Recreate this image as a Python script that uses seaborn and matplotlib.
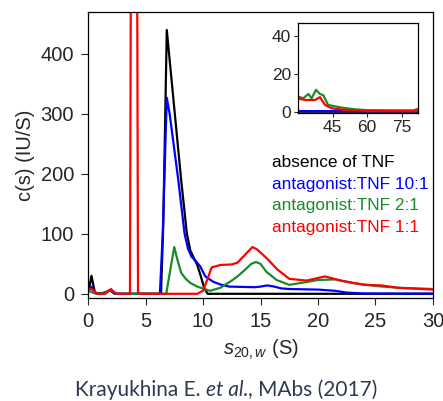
# c(s) sedimentation distributions, main view + inset for the high-s tail
import matplotlib
matplotlib.use("Agg")
import matplotlib.pyplot as plt
import seaborn as sns

# s20,w (S) and c(s) (IU/S)
black_s = [0, 0.15, 0.3, 0.6, 1.0, 1.5, 1.9, 2.2, 2.5, 6.35, 6.55, 6.85, 7.05, 8.1, 8.6, 8.9, 9.2, 9.5, 9.8,
           10.1, 10.4, 30, 82]
black_c = [8, 14, 30, 2, 0, 2, 6, 3, 0, 0, 120, 440, 400, 190, 100, 72, 60, 48, 30, 10, 0, 0, 0]

blue_s = [0, 0.3, 0.6, 1.0, 1.6, 1.9, 2.3, 6.25, 6.5, 6.85, 7.1, 7.85, 8.4, 8.7, 9.0, 9.4, 9.75, 10.2, 10.9, 11.6,
          12.3, 14.5, 15.0, 15.6, 16.2, 16.8, 17.5, 20, 21.5, 22.5, 24, 30, 82]
blue_c = [5, 12, 2, 0, 3, 6, 0, 0, 100, 327, 300, 190, 100, 75, 62, 54, 46, 29, 20, 15,
          12, 11, 12, 14, 12, 9, 8, 7, 5, 2, 0.5, 0.3, 0.3]

green_s = [0, 0.3, 0.7, 1.2, 2.0, 2.5, 6.8, 7.5, 7.8, 8.1, 8.5, 8.9, 9.5, 10.3, 10.6, 11.5, 12.35, 13.0, 13.65, 14.2,
           14.6, 15.0, 15.5, 16.4, 17.5, 18.5, 20, 21.5, 23, 25, 27, 30, 32.3, 34.5, 35.9, 37.8, 39.5, 41, 43, 48.2,
           55, 60, 70, 80, 82]
green_c = [5, 3, 0, 0, 6, 0, 0, 78, 55, 35, 25, 18, 12, 7, 5, 10, 20, 29, 40, 50,
           53, 50, 37, 23, 15, 18, 23, 24, 18, 13, 10, 8, 7.1, 9.4, 7.1, 11.6, 9.4, 8.7, 3.6, 2.3,
           1.2, 0.8, 0.7, 0.7, 1.5]

red_s = [0, 0.3, 0.8, 1.5, 2.0, 2.4, 3.65, 4.0, 4.35, 9.5, 10.0, 10.4, 10.75, 11.5, 12.5, 13.0, 13.6, 14.3, 14.7,
         15.5, 16.5, 17.5, 19, 20.6, 22, 24, 25.5, 27, 30, 33.2, 37.4, 39.5, 41.7, 44.6, 50, 60, 82]
red_c = [8, 8, 0, 0, 8, 0, 0, 2500, 0, 0, 5, 25, 44, 48, 49, 52, 64, 78, 74,
         60, 40, 25, 22, 29, 22, 15, 14, 10, 7, 6.2, 6.2, 7.7, 3.6, 1.8, 1.0, 0.4, 0.3]

labels = ["absence of TNF", "antagonist:TNF 10:1", "antagonist:TNF 2:1", "antagonist:TNF 1:1"]
colors = ["black", "#0000ff", "#1a8a2a", "#ff0000"]
series = [(black_s, black_c), (blue_s, blue_c), (green_s, green_c), (red_s, red_c)]

sns.set_style("ticks")
plt.rcParams["font.family"] = ["Liberation Sans", "DejaVu Sans"]
plt.rcParams["mathtext.fontset"] = "custom"
plt.rcParams["mathtext.rm"] = "Liberation Sans"
plt.rcParams["mathtext.it"] = "Liberation Sans:italic"

fig = plt.figure(figsize=(4.43, 4.01), dpi=100)
ax = fig.add_axes([88 / 443, 1 - 298 / 401, 345 / 443, 286 / 401])
ins = fig.add_axes([298 / 443, 1 - 113 / 401, 120 / 443, 90 / 401])

for (s, c), lab, col in zip(series, labels, colors):
    sns.lineplot(x=s, y=c, ax=ax, color=col, lw=1.6, label=lab, sort=False, estimator=None)
    sns.lineplot(x=s, y=c, ax=ins, color=col, lw=1.6, sort=False, estimator=None)

ax.set_xlim(0, 30)
ax.set_ylim(-7, 470)
ax.set_xticks([0, 5, 10, 15, 20, 25, 30])
ax.set_yticks([0, 100, 200, 300, 400])
ax.tick_params(labelsize=14.5, length=5, width=0.8, direction="out", pad=5)
ax.set_xlabel(r"$s_{\mathit{20,w}}$ (S)", fontsize=14.5, labelpad=5)
ax.set_ylabel("c(s) (IU/S)", fontsize=14.5, labelpad=4)

ins.set_xlim(30, 82)
ins.set_ylim(-0.7, 47)
ins.set_xticks([45, 60, 75])
ins.set_yticks([0, 20, 40])
ins.tick_params(labelsize=12.5, length=3, width=0.8, direction="out", pad=2)
if ins.get_legend():
    ins.get_legend().remove()

for a in (ax, ins):
    for sp in a.spines.values():
        sp.set_visible(True)
        sp.set_linewidth(0.9)
        sp.set_color("black")

ax.legend(handlelength=0, handletextpad=0, labelcolor="linecolor", frameon=False,
          fontsize=12.4, loc="upper left", labelspacing=0.38, borderpad=0, borderaxespad=0,
          bbox_to_anchor=(272 / 443, 1 - 155 / 401), bbox_transform=fig.transFigure)
for h in ax.get_legend().legend_handles:
    h.set_visible(False)

# caption, "et al." in italic, pieces placed one after another
cap_y = 1 - 396 / 401
cap_kw = dict(fontsize=15, color="#2f3a52", family=["Lato", "DejaVu Sans"], va="baseline")
x = 75 / 443
for piece, st in [("Krayukhina E. ", "normal"), ("et al.", "italic"), (", MAbs (2017)", "normal")]:
    t = fig.text(x, cap_y, piece, style=st, **cap_kw)
    fig.canvas.draw()
    x = fig.transFigure.inverted().transform(t.get_window_extent())[1, 0]

fig.savefig("out.png", dpi=100)
